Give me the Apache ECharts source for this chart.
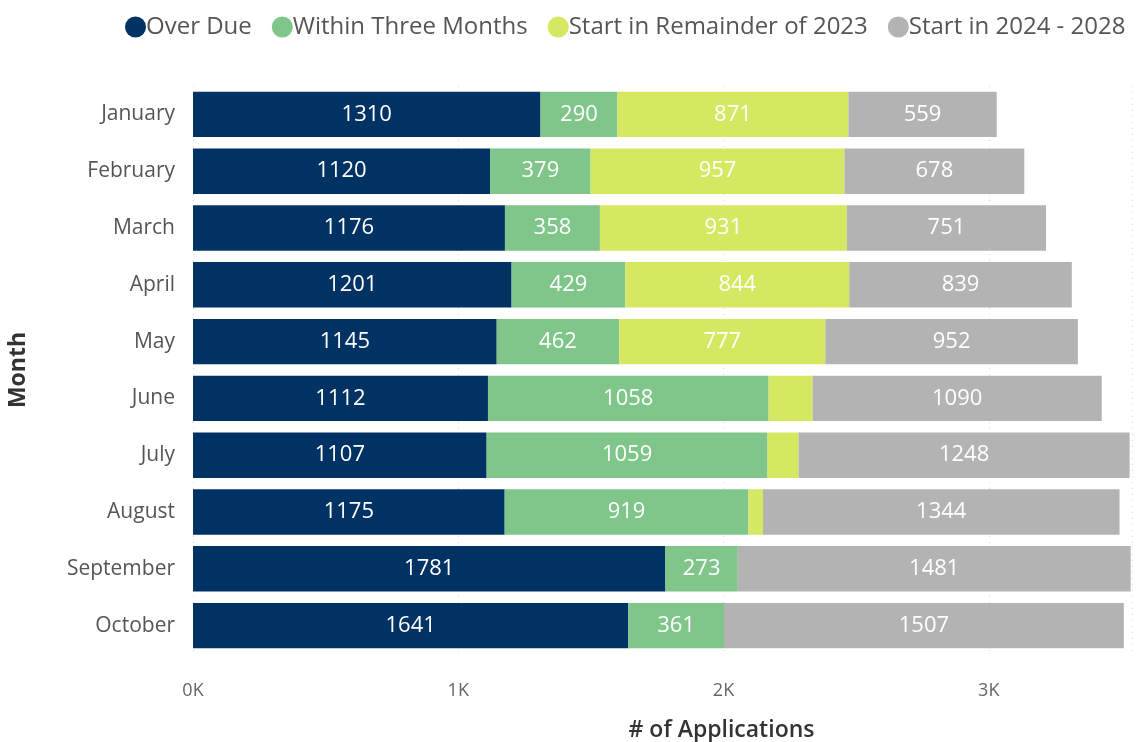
<!DOCTYPE html>
<html>
<head>
<meta charset="utf-8">
<script src="https://cdn.jsdelivr.net/npm/echarts@6/dist/echarts.min.js"></script>
<style>
  html, body { margin: 0; padding: 0; background: #fff; }
  #chart { width: 1144px; height: 742px; }
</style>
</head>
<body>
<div id="chart"></div>
<script>
const months = ['January', 'February', 'March', 'April', 'May', 'June', 'July', 'August', 'September', 'October']
const overDue = [1310, 1120, 1176, 1201, 1145, 1112, 1107, 1175, 1781, 1641]
const withinThree = [290, 379, 358, 429, 462, 1058, 1059, 919, 273, 361]
const remainder2023 = [871, 957, 931, 844, 777, 166, 117, 55, 0, 0]
const later2024 = [559, 678, 751, 839, 952, 1090, 1248, 1344, 1481, 1507]
const xTicks = ['0K', '1K', '2K', '3K']

const chart = echarts.init(document.getElementById('chart'))
const font = '"Open Sans", "Noto Sans", sans-serif'

// 段内标签：太窄的不显示
const segLabel = {
  show: true,
  color: '#ffffff',
  fontSize: 22,
  fontFamily: font,
  formatter: p => (p.value >= 200 ? String(p.value) : '')
}

const makeSeries = (name, data, color) => ({
  name,
  type: 'bar',
  stack: 'total',
  data,
  barCategoryGap: '20%',
  itemStyle: { color },
  label: segLabel,
  emphasis: { disabled: true }
})

chart.setOption({
  animation: false,
  backgroundColor: '#ffffff',
  textStyle: { fontFamily: font },
  legend: {
    top: 10,
    left: 120,
    icon: 'circle',
    itemWidth: 21,
    itemHeight: 21,
    itemGap: 20,
    textStyle: { color: '#555', fontSize: 24, fontFamily: font, padding: [0, 0, 0, -5] },
    data: ['Over Due', 'Within Three Months', 'Start in Remainder of 2023', 'Start in 2024 - 2028']
  },
  grid: { left: 193, right: 12, top: 86, height: 568, outerBoundsMode: 'none' },
  xAxis: {
    type: 'value',
    min: 0,
    max: 3540,
    interval: 1000,
    name: '# of Applications',
    nameLocation: 'middle',
    nameGap: 65,
    nameTextStyle: { color: '#333', fontSize: 23, fontWeight: 600, fontFamily: font, padding: [0, 0, 0, 118] },
    axisLine: { show: false },
    axisTick: { show: false },
    axisLabel: {
      color: '#666',
      fontSize: 18,
      margin: 28,
      showMaxLabel: false,
      formatter: v => xTicks[v / 1000] || ''
    },
    splitLine: { show: true, lineStyle: { color: '#d8d8d8', type: [1, 5] } }
  },
  yAxis: {
    type: 'category',
    data: months,
    inverse: true,
    name: 'Month',
    nameLocation: 'middle',
    nameGap: 163,
    nameTextStyle: { color: '#333', fontSize: 23, fontWeight: 'bold', fontFamily: font },
    axisLine: { show: false },
    axisTick: { show: false },
    axisLabel: { color: '#555', fontSize: 21, margin: 18 }
  },
  series: [
    makeSeries('Over Due', overDue, '#003263'),
    makeSeries('Within Three Months', withinThree, '#80c58a'),
    makeSeries('Start in Remainder of 2023', remainder2023, '#d6e761'),
    makeSeries('Start in 2024 - 2028', later2024, '#b3b3b3')
  ]
})
</script>
</body>
</html>
